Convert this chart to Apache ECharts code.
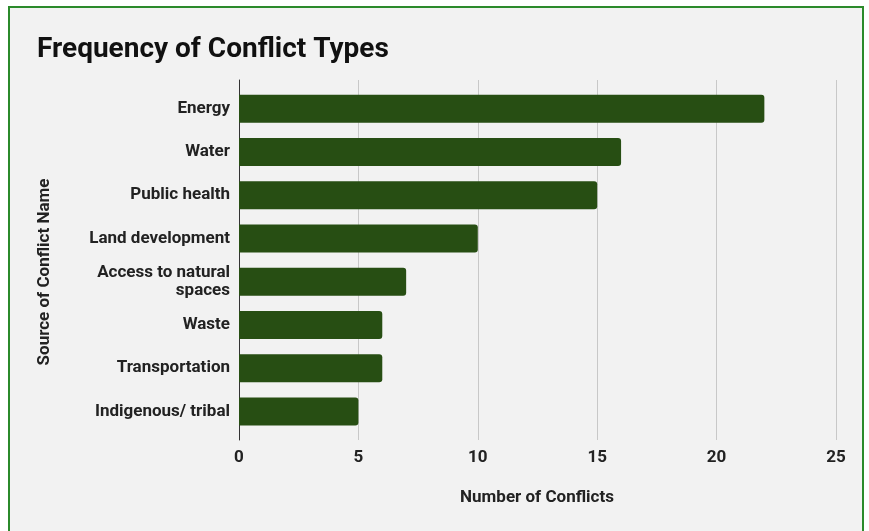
<!DOCTYPE html>
<html>
<head>
<meta charset="utf-8">
<script src="https://cdn.jsdelivr.net/npm/echarts@6/dist/echarts.min.js"></script>
<style>
html,body{margin:0;padding:0;background:#fff;width:869px;height:531px;overflow:hidden;}
#frame{position:absolute;left:8px;top:6px;width:852px;height:540px;border:2px solid #2b8a2b;background:#f2f2f2;}
#chart{position:absolute;left:0;top:0;width:869px;height:531px;}
</style>
</head>
<body>
<div id="frame"></div>
<div id="chart"></div>
<script>
const categories = ["Energy","Water","Public health","Land development","Access to natural\nspaces","Waste","Transportation","Indigenous/ tribal"];
const conflicts = [22,16,15,10,7,6,6,5];
const xTicks = [0,5,10,15,20,25];
const titleText = "Frequency of Conflict Types";
const xName = "Number of Conflicts";
const yName = "Source of Conflict Name";

const font = "Roboto";
const chart = echarts.init(document.getElementById('chart'));
chart.setOption({
  backgroundColor: 'transparent',
  animation: false,
  title: {
    text: titleText, left: 32, top: 31,
    textStyle: {fontFamily: font, fontSize: 28, fontWeight: 'bold', color: '#111'}
  },
  grid: [
    {left: 239, right: 33, top: 80, bottom: 91},
    {left: 239, right: 33, top: 87, bottom: 98}
  ],
  xAxis: [
    {
      type: 'value', gridIndex: 0, min: xTicks[0], max: xTicks[xTicks.length-1], interval: 5,
      axisLine: {show: false}, axisTick: {show: false},
      splitLine: {show: true, lineStyle: {color: '#c8c8c8', width: 1}},
      axisLabel: {margin: 9, fontFamily: font, fontSize: 17, fontWeight: 'bold', color: '#222'}
    },
    {
      type: 'value', gridIndex: 1, min: xTicks[0], max: xTicks[xTicks.length-1], interval: 5,
      show: false
    }
  ],
  yAxis: [
    {
      type: 'category', gridIndex: 0, data: categories, inverse: true,
      axisLine: {show: true, lineStyle: {color: '#333', width: 1}},
      axisTick: {show: false}, axisLabel: {show: false}, splitLine: {show: false}
    },
    {
      type: 'category', gridIndex: 1, data: categories, inverse: true,
      axisLine: {show: false}, axisTick: {show: false}, splitLine: {show: false},
      axisLabel: {margin: 9, fontFamily: font, fontSize: 17, fontWeight: 'bold', color: '#222', lineHeight: 18, align: 'right'}
    }
  ],
  graphic: [
    {type: 'text', x: 537, y: 498, style: {text: xName, fontFamily: font, fontSize: 17, fontWeight: 'bold', fill: '#222', align: 'center', verticalAlign: 'middle'}},
    {type: 'text', x: 45, y: 272, rotation: Math.PI/2, style: {text: yName, fontFamily: font, fontSize: 17, fontWeight: 'bold', fill: '#222', align: 'center', verticalAlign: 'middle'}}
  ],
  series: [{
    type: 'bar', xAxisIndex: 1, yAxisIndex: 1, data: conflicts,
    barWidth: 28,
    itemStyle: {color: '#274e13', borderRadius: [0, 3, 3, 0]}
  }]
});
</script>
</body>
</html>
